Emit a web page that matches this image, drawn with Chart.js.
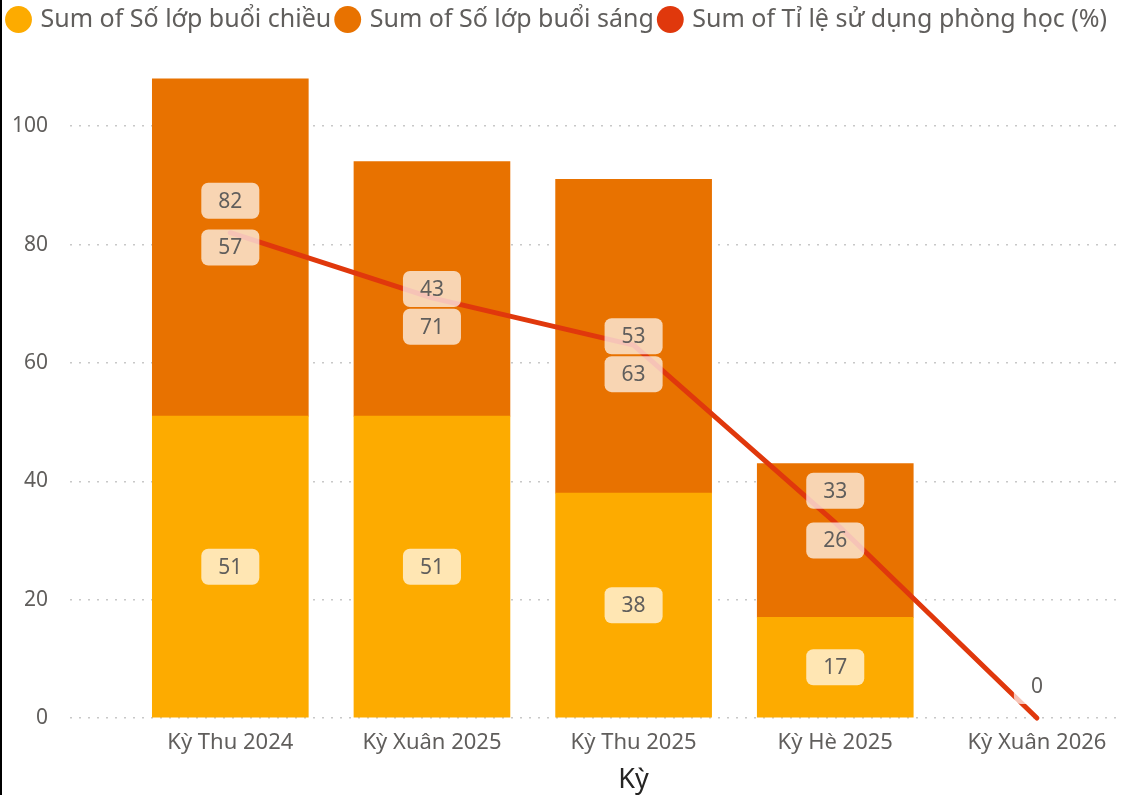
<!DOCTYPE html>
<html>
<head>
<meta charset="utf-8">
<script src="https://cdn.jsdelivr.net/npm/chart.js@4"></script>
<style>
    html, body { margin: 0; padding: 0; background: #fff; }
    #wrap { position: absolute; left: 0; top: 0; width: 1120px; height: 795px; border-left: 2px solid #000; }
</style>
</head>
<body>
<div id="wrap"><canvas id="chart" width="1120" height="795"></canvas></div>
<script>
// Dữ liệu
const categories = ['Kỳ Thu 2024', 'Kỳ Xuân 2025', 'Kỳ Thu 2025', 'Kỳ Hè 2025', 'Kỳ Xuân 2026'];
const afternoonClasses = [51, 51, 38, 17, 0];
const morningClasses = [57, 43, 53, 26, 0];
const roomUsage = [82, 71, 63, 33, 0];
const yTicks = [0, 20, 40, 60, 80, 100];
const xTitle = 'Kỳ';

const FONT = '"Noto Sans", "Open Sans", sans-serif';
const GREY = '#605E5C';

// Nhãn dữ liệu dạng hộp bo góc + tiêu đề trục X
const labelBoxes = {
    id: 'labelBoxes',
    beforeInit(chart) {
        // chừa khoảng trống dưới chú giải
        const lg = chart.legend;
        if (!lg) return;
        const fit = lg.fit;
        lg.fit = function () { fit.call(this); this.height += 25; };
    },
    afterDatasetsDraw(chart) {
        const ctx = chart.ctx;
        ctx.save();
        ctx.font = '21px ' + FONT;
        const boxes = [];
        [0, 1].forEach(di => {
            chart.getDatasetMeta(di).data.forEach((el, i) => {
                const v = chart.data.datasets[di].data[i].y;
                if (!v) return;
                boxes.push({ x: el.x, y: (el.y + el.base) / 2, text: String(v) });
            });
        });
        chart.getDatasetMeta(2).data.forEach((el, i) => {
            let y = el.y - 32;
            const hit = boxes.some(b => Math.abs(b.x - el.x) < 58 && Math.abs(b.y - y) < 38);
            if (hit) y = el.y + 29;
            boxes.push({ x: el.x, y: y, text: String(roomUsage[i]) });
        });
        boxes.forEach(b => {
            const w = ctx.measureText(b.text).width + 34;
            const h = 36;
            ctx.fillStyle = 'rgba(255,255,255,0.7)';
            ctx.beginPath();
            ctx.roundRect(b.x - w / 2, b.y - h / 2, w, h, 7);
            ctx.fill();
            ctx.fillStyle = GREY;
            ctx.textAlign = 'center';
            ctx.textBaseline = 'middle';
            ctx.fillText(b.text, b.x, b.y + 1);
        });

        // tiêu đề trục X, căn giữa dải danh mục
        const xs = chart.scales.x;
        ctx.font = '27px ' + FONT;
        ctx.fillStyle = '#252423';
        ctx.fillText(xTitle, xs.getPixelForValue((categories.length - 1) / 2), xs.bottom - 15);
        ctx.restore();
    }
};

// cột giá trị 0 thì không vẽ
const toPoints = (arr, skipZero) => arr.map((v, i) => ({ x: i, y: (skipZero && v === 0) ? null : v }));

new Chart(document.getElementById('chart'), {
    type: 'bar',
    data: {
        datasets: [
            { label: 'Sum of Số lớp buổi chiều', data: toPoints(afternoonClasses, true), backgroundColor: '#FDAB00', barThickness: 156, borderWidth: 0, order: 1 },
            { label: 'Sum of Số lớp buổi sáng', data: toPoints(morningClasses, true), backgroundColor: '#E87200', barThickness: 156, borderWidth: 0, order: 1 },
            { type: 'line', label: 'Sum of Tỉ lệ sử dụng phòng học (%)', data: toPoints(roomUsage, false), borderColor: '#E0380C', backgroundColor: '#E0380C',
              borderWidth: 5, pointRadius: 0, tension: 0, clip: false, borderCapStyle: 'round', borderJoinStyle: 'round', stack: 'line', order: 0 }
        ]
    },
    options: {
        responsive: false,
        animation: false,
        devicePixelRatio: 1,
        layout: { padding: { left: 0, right: 0, top: 0, bottom: 0 } },
        plugins: {
            tooltip: { enabled: false },
            legend: {
                position: 'top',
                align: 'start',
                labels: {
                    usePointStyle: true,
                    pointStyle: 'circle',
                    boxWidth: 19,
                    boxHeight: 19,
                    padding: 7,
                    color: GREY,
                    font: { family: FONT, size: 25 },
                    sort: (a, b) => a.datasetIndex - b.datasetIndex,
                    generateLabels: chart => Chart.defaults.plugins.legend.labels.generateLabels(chart)
                        .map(item => Object.assign(item, { lineWidth: 0, pointStyle: 'circle' }))
                }
            }
        },
        scales: {
            x: {
                type: 'linear',
                stacked: true,
                offset: false,
                min: -0.795,
                max: 4.422,
                afterBuildTicks: s => { s.ticks = categories.map((_, i) => ({ value: i })); },
                afterFit: s => { s.height = 77; },
                grid: { display: false, drawTicks: false },
                border: { display: false },
                ticks: {
                    padding: 12,
                    color: GREY,
                    font: { family: FONT, size: 22 },
                    callback: v => categories[v]
                },
                title: { display: false }
            },
            y: {
                stacked: true,
                min: 0,
                max: 110,
                afterBuildTicks: s => { s.ticks = yTicks.map(v => ({ value: v })); },
                afterFit: s => { s.width = 68; },
                grid: { color: '#C8C8C8', lineWidth: 1.5, drawTicks: false },
                border: { display: false, dash: [2, 7] },
                ticks: { padding: 22, color: GREY, font: { family: FONT, size: 21 } }
            }
        }
    },
    plugins: [labelBoxes]
});
</script>
</body>
</html>
